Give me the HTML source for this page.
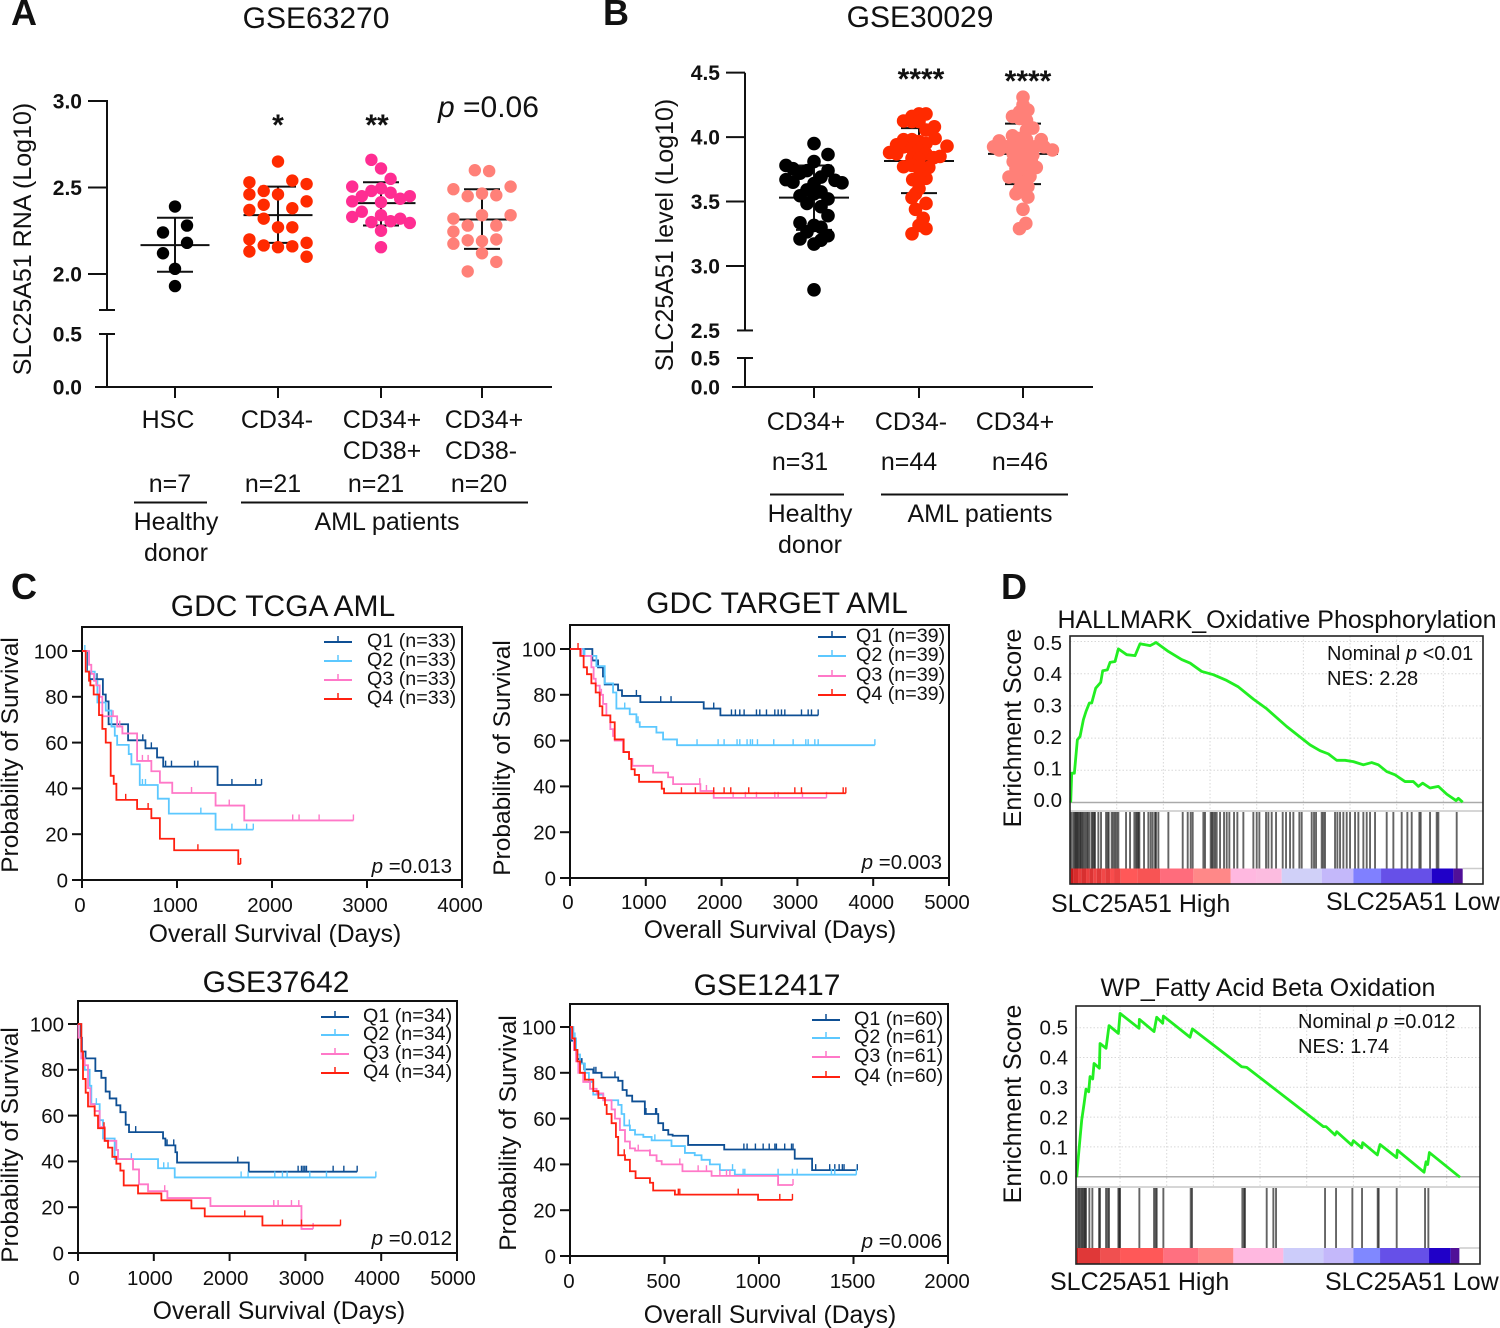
<!DOCTYPE html>
<html lang="en">
<head>
<meta charset="utf-8">
<title>SLC25A51 expression, survival and enrichment figure</title>
<style>
html,body{margin:0;padding:0;background:#fff;}
svg{display:block;font-family:"Liberation Sans",Arial,sans-serif;fill:#111;}
.b{font-weight:bold;}
</style>
</head>
<body>
<svg id="fig" xmlns="http://www.w3.org/2000/svg" width="1500" height="1328" viewBox="0 0 1500 1328">
<rect x="0" y="0" width="1500" height="1328" fill="#fff"/>
<g font-size="36" font-weight="bold">
<text x="11" y="25">A</text>
<text x="603" y="25">B</text>
<text x="11" y="599">C</text>
<text x="1001" y="599">D</text>
</g>
<g id="panelA">
<text x="316" y="28" font-size="30" text-anchor="middle">GSE63270</text>
<text transform="translate(31,239) rotate(-90)" font-size="25" text-anchor="middle">SLC25A51 RNA (Log10)</text>
<text x="438" y="117" font-size="30"><tspan font-style="italic">p</tspan> =0.06</text>
<text x="278" y="135" font-size="30" font-weight="bold" text-anchor="middle">*</text>
<text x="377" y="135" font-size="30" font-weight="bold" text-anchor="middle">**</text>
<g font-size="25" text-anchor="middle">
<text x="168" y="428">HSC</text>
<text x="277" y="428">CD34-</text>
<text x="382" y="428">CD34+</text>
<text x="382" y="459">CD38+</text>
<text x="484" y="428">CD34+</text>
<text x="481" y="459">CD38-</text>
<text x="170" y="492">n=7</text>
<text x="273" y="492">n=21</text>
<text x="376" y="492">n=21</text>
<text x="479" y="492">n=20</text>
<text x="176" y="530">Healthy</text>
<text x="176" y="561">donor</text>
<text x="387" y="530">AML patients</text>
</g>
<line x1="134" x2="207" y1="502.5" y2="502.5" stroke="#111" stroke-width="2"/>
<line x1="241" x2="528" y1="502.5" y2="502.5" stroke="#111" stroke-width="2"/>
</g>
<g id="panelB">
<text x="920" y="27" font-size="30" text-anchor="middle">GSE30029</text>
<text transform="translate(673,235) rotate(-90)" font-size="25" text-anchor="middle">SLC25A51 level (Log10)</text>
<text x="921" y="89" font-size="30" font-weight="bold" text-anchor="middle">****</text>
<text x="1028" y="91" font-size="30" font-weight="bold" text-anchor="middle">****</text>
<g font-size="25" text-anchor="middle">
<text x="806" y="430">CD34+</text>
<text x="911" y="430">CD34-</text>
<text x="1015" y="430">CD34+</text>
<text x="800" y="470">n=31</text>
<text x="909" y="470">n=44</text>
<text x="1020" y="470">n=46</text>
<text x="810" y="522">Healthy</text>
<text x="810" y="553">donor</text>
<text x="980" y="522">AML patients</text>
</g>
<line x1="770" x2="844" y1="494.5" y2="494.5" stroke="#111" stroke-width="2"/>
<line x1="881" x2="1068" y1="494.5" y2="494.5" stroke="#111" stroke-width="2"/>
</g>
<g id="panelC"></g>
<g id="panelD"></g>
</svg>
<script>
/* ---------- Panel A data ---------- */
const aTicksUpper = [2.0, 2.5, 3.0];
const aTicksLower = [0.0, 0.5];
const aHscValues = [2.39,2.28,2.24,2.18,2.12,2.03,1.93];
const aHscSlots = [0,1,-1,1,-1,0,0];
const aCd34NegValues = [2.65,2.54,2.53,2.52,2.48,2.46,2.46,2.42,2.40,2.38,2.37,2.32,2.27,2.27,2.20,2.18,2.165,2.155,2.16,2.13,2.10];
const aCd34NegSlots = [0,1,-2,2,-1,-2,0,2,-1,1,-2,-1,0,1,-2,2,-1,0,1,-2,2];
const aCd38PosValues = [2.66,2.61,2.55,2.505,2.495,2.48,2.47,2.45,2.45,2.435,2.42,2.415,2.36,2.34,2.33,2.32,2.305,2.295,2.30,2.25,2.155];
const aCd38PosSlots = [-1,0,1,-3,0,-1,1,-2,3,2,-3,0,-2,0,-3,2,1,3,-1,0,0];
const aCd38NegValues = [2.60,2.595,2.505,2.49,2.465,2.45,2.455,2.34,2.34,2.32,2.28,2.28,2.245,2.195,2.19,2.20,2.175,2.12,2.07,2.015];
const aCd38NegSlots = [-0.5,0.5,2,-2,0,-1,1,2,0,-2,-1,1,-2,-1,0,1,-2,0,1,-1];
const aMeans = [2.167,2.34,2.41,2.315];
const aUppers = [2.325,2.505,2.53,2.49];
const aLowers = [2.013,2.18,2.28,2.145];

/* ---------- Panel B data ---------- */
const bTicksUpper = [2.5,3.0,3.5,4.0,4.5];
const bTicksLower = [0.0,0.5];
const bHealthyValues = [3.95,3.865,3.81,3.78,3.755,3.74,3.74,3.72,3.69,3.67,3.665,3.645,3.65,3.64,3.59,3.575,3.56,3.545,3.52,3.485,3.46,3.39,3.335,3.315,3.30,3.265,3.235,3.21,3.2,3.17,2.815];
const bHealthySlots = [0,2,0,-4,-3,-1,2,-2,1,-4,3,4,-3,0,-1,1,0,-2,2,-1,1,2,-2,0,1,-1,2,-2,1,0,0];
const bCd34NegValues = [4.18,4.18,4.16,4.125,4.12,4.12,4.08,4.055,3.99,3.98,3.98,3.965,3.94,3.95,3.93,3.925,3.91,3.9,3.88,3.87,3.87,3.85,3.84,3.835,3.83,3.77,3.765,3.78,3.755,3.68,3.67,3.68,3.6,3.56,3.53,3.485,3.44,3.37,3.315,3.29,3.25];
const bCd34NegSlots = [1,0,-1,-2.2,-1,0,2.2,1,2.3,-2.2,-1,0,-3.2,1,4,-2.2,-1,0,-4.2,-3.2,1,3,2.1,-1,0,-2.2,1.4,-1,0,1,-0.9,0,0,-0.5,-1,1,-0.5,0.6,0,1,-1];
const bCd34PosValues = [4.31,4.25,4.21,4.195,4.16,4.145,4.13,4.07,4.055,4.01,3.99,3.98,3.98,3.97,3.925,3.925,3.95,3.925,3.925,3.925,3.925,3.9,3.9,3.87,3.86,3.86,3.81,3.81,3.81,3.765,3.755,3.745,3.69,3.69,3.695,3.65,3.615,3.6,3.56,3.535,3.44,3.33,3.29];
const bCd34PosSlots = [0,0,0.7,-0.5,-1.5,-0.5,0.5,1.4,0.5,-1.5,-0.5,0.5,2.6,-3.4,-4.2,-2.4,-1.4,-0.5,0.7,1.7,3,4.2,-3.4,-1.4,0,1.4,-1.4,0,1.2,1.9,-1,0.5,-2,-1,1,0,0.7,-0.5,-1,0.7,0,0.4,-0.5];
const bMeans = [3.53,3.815,3.87];
const bUppers = [3.78,4.07,4.105];
const bLowers = [3.28,3.565,3.635];

/* ---------- Panel C data (days, survival %, censor days) ---------- */
const survivalTicks = [0,20,40,60,80,100];
const tcgaDayTicks = [0,1000,2000,3000,4000];
const targetDayTicks = [0,1000,2000,3000,4000,5000];
const g37642DayTicks = [0,1000,2000,3000,4000,5000];
const g12417DayTicks = [0,500,1000,1500,2000];

const tcgaQ1Days = [53,80,220,250,280,485,668,790,855,1427,1890];
const tcgaQ1Surv = [91,87.7,81,78,68,61,57.5,53.5,49.5,41.5,41.5];
const tcgaQ1Cens = [158,640,730,880,942,1185,1220,1578,1828,1890];
const tcgaQ2Days = [45,134,162,250,310,345,370,492,520,608,798,914,1406,1803];
const tcgaQ2Surv = [91,87,77.5,74,67,63,59,55,50.5,41.5,35.5,29,22,22];
const tcgaQ2Cens = [30,636,668,1251,1578,1733,1803];
const tcgaQ3Days = [74,98,126,150,186,214,370,425,580,730,820,950,1406,1708,2857];
const tcgaQ3Surv = [94,90,87,85,80,71.5,67,64,52,47.5,42.5,38,32.5,26,26];
const tcgaQ3Cens = [327,397,636,696,1153,1550,2218,2285,2496,2857];
const tcgaQ4Days = [39,74,88,123,179,214,250,302,334,362,580,730,820,970,1645,1670];
const tcgaQ4Surv = [91,87,85,81,72,66,60,45.5,42,35,31,27,18,13,7,7];
const tcgaQ4Cens = [460,696,1220,1670];

const targetQ1Days = [295,370,435,458,634,686,928,1764,1984,3274];
const targetQ1Surv = [95,92,88,84.5,82,79.5,76.8,74,71,71];
const targetQ1Cens = [876,1197,1333,1896,2130,2182,2240,2297,2460,2504,2592,2702,2746,2790,2834,3054,3142,3186,3274];
const targetQ2Days = [180,348,458,568,612,788,876,920,1140,1228,1412,4022];
const targetQ2Surv = [97,92.5,85,81,74,71.5,68,66,63.5,60.5,58,58];
const targetQ2Cens = [194,722,898,1676,1954,2033,2204,2240,2336,2380,2407,2473,2688,2944,3111,3142,3230,3274,4022];
const targetQ3Days = [150,282,312,339,392,436,480,532,568,590,700,779,823,1096,1294,1360,1720,1896,3384];
const targetQ3Surv = [97,92,87,84,80,76,71,65,62,60,55,52,49,46,44,41,38,35,35];
const targetQ3Cens = [414,1712,1800,2152,2314,2460,2702,2746,3067,3384];
const targetQ4Days = [136,180,224,282,339,392,427,532,590,708,779,810,854,911,1210,1241,3639];
const targetQ4Surv = [97,92,89,85,81,75,71,68,60.5,55,52,47.5,45,42,39,37,37];
const targetQ4Cens = [106,1470,1654,1896,2033,2121,2358,2966,3054,3604,3639];

const g37642Q1Days = [35,53,100,229,308,365,418,506,559,629,673,1122,1153,1285,1307,2253,3683];
const g37642Q1Surv = [94,88,85,79.5,76.5,70.5,67.5,64.5,61.5,56,52.8,50,47,44,39.5,35.5,35.5];
const g37642Q1Cens = [761,1175,1263,2108,2904,2948,2970,2992,3014,3366,3507,3683];
const g37642Q2Days = [44,88,154,176,286,330,484,1056,1276,3929];
const g37642Q2Surv = [85,80,73,65,58,50,41,37,33,33];
const g37642Q2Cens = [242,704,1131,1188,2152,2244,2596,2697,2759,3058,3278,3929];
const g37642Q3Days = [5,44,88,132,163,220,286,352,506,528,726,805,924,1179,1747,2948,3102];
const g37642Q3Surv = [94,85,82,72,65,62,55,49,45,41,36.5,30,27,24,20.5,10.5,10.5];
const g37642Q3Cens = [1144,2583,2640,2816,2913,2948,3102];
const g37642Q4Days = [44,66,101,132,220,264,352,396,453,506,559,603,792,1100,1496,1672,2433,3463];
const g37642Q4Surv = [88,76,70,64,60,54.5,49,46,42,39,36,29.5,26,23,19.5,16,12,12];
const g37642Q4Cens = [343,2200,2697,2948,3463];

const g12417Q1Days = [5,21,39,62,76,123,167,255,278,300,329,396,467,493,520,543,625,816,1189,1281,1520];
const g12417Q1Surv = [94,90,86,84,81.5,80,78,76.5,72.5,70,67.5,62,58,55,53,52.5,48.5,46.5,42.5,37.5,37.5];
const g12417Q1Cens = [127,137,238,402,453,458,920,937,981,1022,1054,1084,1092,1136,1172,1180,1300,1374,1401,1424,1441,1450,1520];
const g12417Q2Days = [18,32,53,79,100,123,176,255,273,287,317,344,388,432,537,608,660,696,740,793,872,1515];
const g12417Q2Surv = [95,88,84,80,76,70.5,68,66,62,57,55,53,52,50.5,48,45,44,42,40,37.5,35.5,35.5];
const g12417Q2Cens = [26,273,314,449,860,916,925,1101,1177,1202,1383,1401,1515];
const g12417Q3Days = [9,21,32,44,70,106,141,176,220,238,264,291,317,344,423,458,485,595,749,1101,1180];
const g12417Q3Surv = [95,90,85,80,76,73,71,68,64,60,55,50,47,46,44,41.5,40,37,35,31,31];
const g12417Q3Cens = [361,423,581,678,722,793,828,846,1101,1180];
const g12417Q4Days = [12,26,39,53,79,123,150,185,194,220,243,255,291,317,347,423,440,555,995,1177];
const g12417Q4Surv = [95,90,85,80,77,72,69,66,62,58,52,44,42,37,34,32,28.6,26.8,24.5,24.5];
const g12417Q4Cens = [287,573,581,890,1110,1177];

/* ---------- Panel D data (rank in list, running enrichment score) ---------- */
const oxphosTicks = [0,0.1,0.2,0.3,0.4,0.5];
const oxphosRanks = [0,3,11,20,28,38,46,56,63,75,90,96,110,118,133,143,168,193,208,238,256,293,333,358,393,428,468,503,548,588,648,718,748,773,798,823,848,878,903,923,948,973,1003,1028,1043,1056,1078,1103,1128,1156,1163,1176];
const oxphosScores = [0,0.091,0.091,0.195,0.205,0.257,0.283,0.309,0.309,0.355,0.373,0.409,0.412,0.435,0.438,0.477,0.459,0.456,0.493,0.487,0.497,0.469,0.444,0.433,0.407,0.397,0.379,0.359,0.321,0.291,0.236,0.179,0.161,0.151,0.131,0.131,0.127,0.117,0.124,0.117,0.096,0.086,0.065,0.065,0.05,0.06,0.045,0.05,0.026,0.006,0.013,0.001];
const oxphosHits = [2,8,12,15,18,21,24,28,31,35,38,43,48,51,56,63,66,70,73,83,91,106,111,114,123,128,133,138,143,166,178,191,196,200,203,206,220,233,240,246,253,256,263,293,336,351,360,366,398,403,420,424,428,433,438,448,460,468,476,490,500,518,548,558,566,586,593,603,616,636,646,658,668,686,693,723,730,736,753,758,763,793,800,808,818,828,838,853,863,878,888,898,913,948,968,993,1010,1023,1046,1050,1078,1098,1103,1158];
const oxphosStripEdges = [0,8,22,32,46,56,68,78,92,104,118,130,150,200,268,368,480,556,633,753,848,931,1083,1148,1176];
const oxphosStripColors = ['#c41a1a','#d82c2c','#e83c3c','#d83030','#ec4040','#dc3434','#f04444','#e03838','#f24848','#e43c3c','#f84c4c','#ec4444','#ff5858','#f85454','#ff6c7c','#ff8888','#ffb8e0','#fcbce0','#d0d0f8','#c4b8fa','#8080ff','#6650e8','#2000c8','#501098'];

const faoTicks = [0,0.1,0.2,0.3,0.4,0.5];
const faoRanks = [0,5,10,15,22,28,36,40,48,52,68,70,88,97,125,130,187,188,232,240,258,260,340,347,495,510,740,748,775,780,825,830,855,858,902,910,960,962,1042,1048,1053,1058,1150];
const faoScores = [-0.002,0.067,0.129,0.19,0.244,0.294,0.285,0.336,0.328,0.38,0.364,0.447,0.431,0.507,0.481,0.548,0.498,0.528,0.487,0.535,0.515,0.539,0.468,0.496,0.369,0.367,0.168,0.168,0.14,0.151,0.106,0.121,0.097,0.114,0.073,0.108,0.064,0.089,0.015,0.05,0.041,0.081,-0.002];
const faoHits = [3,7,11,15,18,22,25,28,38,47,67,70,88,93,97,125,128,130,188,232,237,240,260,342,346,497,502,505,570,590,598,745,778,827,856,903,906,960,1045,1055];
const faoStripEdges = [0,5,70,130,260,365,470,620,740,830,910,1057,1122,1148];
const faoStripColors = ['#c81818','#e03838','#f05050','#ff5858','#ff7080','#ff8888','#ffb8e0','#ccccfa','#c4b8fa','#8088ff','#6650e8','#2000c8','#501098'];

/* ---------- drawing helpers ---------- */
const NS = 'http://www.w3.org/2000/svg';
function mk(parent, tag, attrs, text) {
  const el = document.createElementNS(NS, tag);
  for (const k in attrs) el.setAttribute(k, attrs[k]);
  if (text !== undefined) el.textContent = text;
  parent.appendChild(el);
  return el;
}
function seg(parent, x1, y1, x2, y2, w, color) {
  return mk(parent, 'line', {x1:x1, y1:y1, x2:x2, y2:y2, stroke:color || '#111', 'stroke-width':w || 2});
}

/* ---------- scatter panels ---------- */
function drawScatterAxes(group, cfg) {
  const ax = mk(group, 'g', {});
  
  
  const upper = seg(ax, cfg.axisX, cfg.upTop, cfg.axisX, cfg.breakTop, 2);
  
  
  const lower = seg(ax, cfg.axisX, cfg.breakBottom, cfg.axisX, cfg.baseline, 2);
  
  
  const xAxis = seg(ax, cfg.xStart, cfg.baseline, cfg.xEnd, cfg.baseline, 2);
  
  
  cfg.centers.forEach(function (c) {
    const t = seg(ax, c, cfg.baseline, c, cfg.baseline + 11, 2);
    
    
  });
  cfg.ticksUpper.forEach(function (v) {
    const y = cfg.yUp(v);
    const isBreak = v === cfg.breakValue;
    const t = isBreak ? seg(ax, cfg.axisX - 8, y, cfg.axisX + 8, y, 2) : seg(ax, cfg.axisX - 19, y, cfg.axisX, y, 2);
    
    
    const lab = mk(ax, 'text', {x:cfg.labelX, y:y + 7.5, 'font-size':21, 'font-weight':'bold', 'text-anchor':'end'}, v.toFixed(1));
    
    
  });
  cfg.ticksLower.forEach(function (v) {
    const y = cfg.yLow(v);
    if (v > 0) {
      const t = seg(ax, cfg.axisX - 8, y, cfg.axisX + 8, y, 2);
      
      
    }
    const lab = mk(ax, 'text', {x:cfg.labelX, y:y + 7.5, 'font-size':21, 'font-weight':'bold', 'text-anchor':'end'}, v.toFixed(1));
    
    
  });
}
function drawDots(group, values, slots, cx, unit, r, color, yFn) {
  const g = mk(group, 'g', {fill:color});
  
  
  values.forEach(function (v, i) {
    const c = mk(g, 'circle', {cx:cx + slots[i] * unit, cy:yFn(v), r:r});
    
    
  });
}
function drawBars(group, cx, mean, up, low, halfMean, halfSd, yFn) {
  const g = mk(group, 'g', {});
  
  
  const stem = seg(g, cx, yFn(up), cx, yFn(low), 2);
  
  
  const m = seg(g, cx - halfMean, yFn(mean), cx + halfMean, yFn(mean), 2);
  
  
  const u = seg(g, cx - halfSd, yFn(up), cx + halfSd, yFn(up), 2);
  
  
  const l = seg(g, cx - halfSd, yFn(low), cx + halfSd, yFn(low), 2);
  
  
}

/* panel A */
(function () {
  const g = document.getElementById('panelA');
  const yUp = function (v) { return 274 - (v - 2) * 173; };
  const yLow = function (v) { return 387 - v * 106; };
  const centers = [175, 278, 381, 482];
  const axis = {axisX:107, upTop:100, breakTop:310, breakBottom:334, baseline:387, xStart:95, xEnd:552,
    centers:centers, ticksUpper:aTicksUpper, ticksLower:aTicksLower, yUp:yUp, yLow:yLow, labelX:82, breakValue:null};
  drawScatterAxes(g, axis);
  const brk = seg(g, 99, 310, 115, 310, 2);
  
  
  const halves = [34.5, 34.5, 34.5, 29];
  centers.forEach(function (c, i) {
    drawBars(g, c, aMeans[i], aUppers[i], aLowers[i], halves[i], 18, yUp);
  });
  drawDots(g, aHscValues, aHscSlots, centers[0], 12, 6.2, '#000', yUp);
  drawDots(g, aCd34NegValues, aCd34NegSlots, centers[1], 14.3, 6.2, '#ff2a00', yUp);
  drawDots(g, aCd38PosValues, aCd38PosSlots, centers[2], 9.6, 6.2, '#ff2d92', yUp);
  drawDots(g, aCd38NegValues, aCd38NegSlots, centers[3], 14.3, 6.2, '#ff8078', yUp);
})();

/* panel B */
(function () {
  const g = document.getElementById('panelB');
  const yUp = function (v) { return 266 - (v - 3) * 128.9; };
  const yLow = function (v) { return 387 - v * 58; };
  const centers = [814, 919, 1023];
  const axis = {axisX:745, upTop:72.7, breakTop:330, breakBottom:358, baseline:387, xStart:732, xEnd:1093,
    centers:centers, ticksUpper:bTicksUpper, ticksLower:bTicksLower, yUp:yUp, yLow:yLow, labelX:720, breakValue:2.5};
  drawScatterAxes(g, axis);
  centers.forEach(function (c, i) {
    drawBars(g, c, bMeans[i], bUppers[i], bLowers[i], 35, 18, yUp);
  });
  drawDots(g, bHealthyValues, bHealthySlots, centers[0], 7, 6.8, '#000', yUp);
  drawDots(g, bCd34NegValues, bCd34NegSlots, centers[1], 7, 6.8, '#ff2a00', yUp);
  drawDots(g, bCd34PosValues, bCd34PosSlots, centers[2], 7, 6.8, '#ff8078', yUp);
})();

/* ---------- survival panels ---------- */
const kmColors = ['#0e4f94', '#5cc8ff', '#ff78c8', '#ff2010'];
function survAt(days, surv, d) {
  let s = 100;
  for (let i = 0; i < days.length; i++) { if (days[i] <= d) s = surv[i]; else break; }
  return s;
}
function drawKmCurve(g, days, surv, cens, color, xFn, yFn) {
  const line = mk(g, 'g', {});
  
  
  let d = 'M' + xFn(0) + ' ' + yFn(100);
  days.forEach(function (t, i) {
    d += 'H' + xFn(t) + 'V' + yFn(surv[i]);
  });
  const p = mk(line, 'path', {d:d, fill:'none', stroke:color, 'stroke-width':1.8});
  
  
  cens.forEach(function (t) {
    const y = yFn(survAt(days, surv, t));
    const c = seg(line, xFn(t), y, xFn(t), y - 6, 1.4, color);
    
    
  });
}
function drawKm(cfg) {
  const host = document.getElementById('panelC');
  const g = mk(host, 'g', {});
  
  
  const xFn = function (d) { return cfg.left + d / cfg.xMax * (cfg.right - cfg.left); };
  const yFn = function (s) { return cfg.bottom - s / 100 * (cfg.bottom - cfg.y100); };
  const frame = mk(g, 'rect', {x:cfg.left, y:cfg.top, width:cfg.right - cfg.left, height:cfg.bottom - cfg.top, fill:'none', stroke:'#111', 'stroke-width':2});
  
  
  survivalTicks.forEach(function (v) {
    const t = seg(g, cfg.left - 10, yFn(v), cfg.left, yFn(v), 2);
    
    
    const lab = mk(g, 'text', {x:cfg.left - 14, y:yFn(v) + 7.3, 'font-size':20.5, 'text-anchor':'end'}, String(v));
    
    
  });
  cfg.xTicks.forEach(function (v) {
    const t = seg(g, xFn(v), cfg.bottom, xFn(v), cfg.bottom + 8, 2);
    
    
    const lab = mk(g, 'text', {x:xFn(v) + cfg.xLabelShift, y:cfg.xLabelY, 'font-size':20.5, 'text-anchor':'middle'}, String(v));
    
    
  });
  cfg.series.forEach(function (s, i) {
    drawKmCurve(g, s[0], s[1], s[2], kmColors[i], xFn, yFn);
  });
  cfg.legendLabels.forEach(function (label, i) {
    const y = cfg.legendY[i];
    const l = seg(g, cfg.legendX, y, cfg.legendX + 28, y, 2, kmColors[i]);
    
    
    const m = seg(g, cfg.legendX + 14, y, cfg.legendX + 14, y - 6, 1.5, kmColors[i]);
    
    
    const txt = mk(g, 'text', {x:cfg.legendTextX, y:y + 5, 'font-size':19.7}, label);
    
    
  });
  const title = mk(g, 'text', {x:cfg.titleX, y:cfg.titleY, 'font-size':30, 'text-anchor':'middle'}, cfg.title);
  
  
  const xt = mk(g, 'text', {x:cfg.xTitleX, y:cfg.xTitleY, 'font-size':24.7, 'text-anchor':'middle'}, 'Overall Survival (Days)');
  
  
  const yt = mk(g, 'text', {transform:'translate(' + cfg.yTitleX + ',' + cfg.yTitleY + ') rotate(-90)', 'font-size':24.5, 'text-anchor':'middle'}, 'Probability of Survival');
  
  
  const pv = mk(g, 'text', {x:cfg.pX, y:cfg.pY, 'font-size':20.5, 'text-anchor':'end'});
  
  
  mk(pv, 'tspan', {'font-style':'italic'}, 'p');
  mk(pv, 'tspan', {}, ' =' + cfg.p);
}
drawKm({name:'km-tcga', title:'GDC TCGA AML', titleX:283, titleY:616, left:82, right:462, top:627, bottom:880, y100:651, xMax:4000, xTicks:tcgaDayTicks, xLabelY:912, xLabelShift:-2,
  series:[[tcgaQ1Days,tcgaQ1Surv,tcgaQ1Cens],[tcgaQ2Days,tcgaQ2Surv,tcgaQ2Cens],[tcgaQ3Days,tcgaQ3Surv,tcgaQ3Cens],[tcgaQ4Days,tcgaQ4Surv,tcgaQ4Cens]],
  legendLabels:['Q1 (n=33)','Q2 (n=33)','Q3 (n=33)','Q4 (n=33)'], legendX:324, legendTextX:367, legendY:[642,661,680,699],
  xTitleX:275, xTitleY:942, yTitleX:18, yTitleY:755, pX:452, pY:873, p:'0.013'});
drawKm({name:'km-target', title:'GDC TARGET AML', titleX:777, titleY:613, left:570, right:949, top:625, bottom:878, y100:649, xMax:5000, xTicks:targetDayTicks, xLabelY:909, xLabelShift:-2,
  series:[[targetQ1Days,targetQ1Surv,targetQ1Cens],[targetQ2Days,targetQ2Surv,targetQ2Cens],[targetQ3Days,targetQ3Surv,targetQ3Cens],[targetQ4Days,targetQ4Surv,targetQ4Cens]],
  legendLabels:['Q1 (n=39)','Q2 (n=39)','Q3 (n=39)','Q4 (n=39)'], legendX:818, legendTextX:856, legendY:[637,656,676,695],
  xTitleX:770, xTitleY:938, yTitleX:510, yTitleY:758, pX:942, pY:869, p:'0.003'});
drawKm({name:'km-gse37642', title:'GSE37642', titleX:276, titleY:992, left:78, right:457, top:1001, bottom:1253, y100:1024, xMax:5000, xTicks:g37642DayTicks, xLabelY:1285, xLabelShift:-4,
  series:[[g37642Q1Days,g37642Q1Surv,g37642Q1Cens],[g37642Q2Days,g37642Q2Surv,g37642Q2Cens],[g37642Q3Days,g37642Q3Surv,g37642Q3Cens],[g37642Q4Days,g37642Q4Surv,g37642Q4Cens]],
  legendLabels:['Q1 (n=34)','Q2 (n=34)','Q3 (n=34)','Q4 (n=34)'], legendX:321, legendTextX:363, legendY:[1017,1035,1054,1073],
  xTitleX:279, xTitleY:1319, yTitleX:18, yTitleY:1145, pX:452, pY:1245, p:'0.012'});
drawKm({name:'km-gse12417', title:'GSE12417', titleX:767, titleY:995, left:570, right:948, top:1004, bottom:1256, y100:1027, xMax:2000, xTicks:g12417DayTicks, xLabelY:1288, xLabelShift:-1,
  series:[[g12417Q1Days,g12417Q1Surv,g12417Q1Cens],[g12417Q2Days,g12417Q2Surv,g12417Q2Cens],[g12417Q3Days,g12417Q3Surv,g12417Q3Cens],[g12417Q4Days,g12417Q4Surv,g12417Q4Cens]],
  legendLabels:['Q1 (n=60)','Q2 (n=61)','Q3 (n=61)','Q4 (n=60)'], legendX:812, legendTextX:854, legendY:[1020,1038,1057,1077],
  xTitleX:770, xTitleY:1323, yTitleX:516, yTitleY:1133, pX:942, pY:1248, p:'0.006'});

/* ---------- enrichment panels ---------- */
function drawGsea(cfg) {
  const host = document.getElementById('panelD');
  const g = mk(host, 'g', {});
  
  
  const xFn = function (r) { return cfg.x0 + r * cfg.rankScale; };
  const yFn = function (v) { return cfg.zeroY - v * cfg.esScale; };
  cfg.ticks.forEach(function (v) {
    const gl = seg(g, cfg.left, yFn(v), cfg.right, yFn(v), 1, '#d8d8d8');
    gl.setAttribute('stroke-dasharray', '1.5 2');
    
    
    const lab = mk(g, 'text', {x:cfg.left - 8, y:cfg.labelZero - v * cfg.labelScale + 7.3, 'font-size':20.5, 'text-anchor':'end'}, v.toFixed(1));
    
    
  });
  for (let r = cfg.gridStart; xFn(r) < cfg.right; r += 140) {
    const gv = seg(g, xFn(r), cfg.top, xFn(r), cfg.sepY, 1, '#d8d8d8');
    gv.setAttribute('stroke-dasharray', '1.5 2');
    
    
  }
  const zero = seg(g, cfg.left, cfg.zeroY, cfg.right, cfg.zeroY, 1.5, '#aaa');
  
  
  const sep = seg(g, cfg.left, cfg.sepY, cfg.right, cfg.sepY, 1.5, '#c8c8c8');
  
  
  cfg.hits.forEach(function (r) {
    const h = seg(g, xFn(r), cfg.sepY + 1, xFn(r), cfg.stripTop, 1.9, 'rgba(20,20,20,0.66)');
    
    
  });
  cfg.stripColors.forEach(function (c, i) {
    const s = mk(g, 'rect', {x:xFn(cfg.stripEdges[i]), y:cfg.stripTop, width:xFn(cfg.stripEdges[i + 1]) - xFn(cfg.stripEdges[i]), height:cfg.bottom - cfg.stripTop, fill:c});
    
    
  });
  const stripLine = seg(g, xFn(cfg.stripEdges[cfg.stripEdges.length - 1]), cfg.stripTop, cfg.right, cfg.stripTop, 1.5, '#ccc');
  
  
  const pts = cfg.ranks.map(function (r, i) { return xFn(r) + ',' + yFn(cfg.scores[i]); }).join(' ');
  const curve = mk(g, 'polyline', {points:pts, fill:'none', stroke:'#22ee22', 'stroke-width':2.8, 'stroke-linejoin':'round'});
  
  
  const frame = mk(g, 'rect', {x:cfg.left, y:cfg.top, width:cfg.right - cfg.left, height:cfg.bottom - cfg.top, fill:'none', stroke:'#222', 'stroke-width':1.6});
  
  
  const title = mk(g, 'text', {x:cfg.titleX, y:cfg.titleY, 'font-size':25, 'text-anchor':'middle'}, cfg.title);
  
  
  const yt = mk(g, 'text', {transform:'translate(1021,' + cfg.yTitleY + ') rotate(-90)', 'font-size':25, 'text-anchor':'middle'}, 'Enrichment Score');
  
  
  const nom = mk(g, 'text', {x:cfg.noteX, y:cfg.noteY, 'font-size':20});
  
  
  mk(nom, 'tspan', {}, 'Nominal ');
  mk(nom, 'tspan', {'font-style':'italic'}, 'p');
  mk(nom, 'tspan', {}, ' ' + cfg.p);
  const nes = mk(g, 'text', {x:cfg.noteX, y:cfg.noteY + 25, 'font-size':20}, 'NES: ' + cfg.nes);
  
  
  const hi = mk(g, 'text', {x:cfg.highX, y:cfg.highY, 'font-size':25}, 'SLC25A51 High');
  
  
  const lo = mk(g, 'text', {x:cfg.lowX, y:cfg.lowY, 'font-size':25}, 'SLC25A51 Low');
  
  
}
drawGsea({name:'gsea-oxidative-phosphorylation', title:'HALLMARK_Oxidative Phosphorylation', titleX:1277, titleY:628,
  left:1070, right:1483, top:636, bottom:884, zeroY:802.5, sepY:811, stripTop:868.5, x0:1070.7, rankScale:1/3, esScale:322, gridStart:138, labelZero:799.5, labelScale:314,
  ticks:oxphosTicks, ranks:oxphosRanks, scores:oxphosScores, hits:oxphosHits, stripEdges:oxphosStripEdges, stripColors:oxphosStripColors,
  yTitleY:728, noteX:1327, noteY:660, p:'<0.01', nes:'2.28', highX:1051, highY:912, lowX:1326, lowY:910});
drawGsea({name:'gsea-fatty-acid-oxidation', title:'WP_Fatty Acid Beta Oxidation', titleX:1268, titleY:996,
  left:1076, right:1480, top:1006, bottom:1264, zeroY:1176.7, sepY:1187, stripTop:1248, x0:1076.7, rankScale:1/3, esScale:298, gridStart:130, labelZero:1177, labelScale:300,
  ticks:faoTicks, ranks:faoRanks, scores:faoScores, hits:faoHits, stripEdges:faoStripEdges, stripColors:faoStripColors,
  yTitleY:1104, noteX:1298, noteY:1028, p:'=0.012', nes:'1.74', highX:1050, highY:1290, lowX:1325, lowY:1290});
</script>
</body>
</html>
